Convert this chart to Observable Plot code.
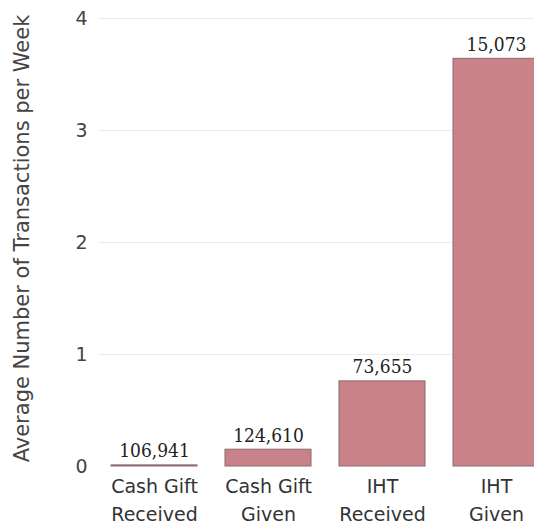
<!DOCTYPE html>
<html>
<head>
<meta charset="utf-8">
<script src="https://cdn.jsdelivr.net/npm/d3@7"></script>
<script src="https://cdn.jsdelivr.net/npm/@observablehq/plot@0.6"></script>
<style>
  html, body { margin: 0; padding: 0; background: #fff; overflow: hidden; }
  #chart svg { display: block; overflow: hidden; }
</style>
</head>
<body>
<div id="chart"></div>
<script>
const categories = ["Cash Gift\nReceived", "Cash Gift\nGiven", "IHT\nReceived", "IHT\nGiven"];
const values = [0.01, 0.15, 0.76, 3.64];
const countLabels = ["106,941", "124,610", "73,655", "15,073"];
const yTicks = [0, 1, 2, 3, 4];

const data = categories.map((c, i) => ({cat: c, value: values[i], label: countLabels[i]}));

const chart = Plot.plot({
  width: 534,
  height: 529,
  marginLeft: 99,
  marginRight: -16.5,
  marginTop: 18,
  marginBottom: 63,
  style: {fontFamily: "'DejaVu Sans', sans-serif", background: "#fff", color: "#333"},
  x: {domain: categories, paddingInner: 0.25, paddingOuter: 0.1, label: null},
  y: {domain: [0, 4], label: null},
  marks: [
    Plot.gridY(yTicks.filter(d => d > 0), {stroke: "#ebebeb", strokeOpacity: 1}),
    Plot.barY(data, {x: "cat", y: "value", fill: "#c9828a", stroke: "#8a6a6e", strokeWidth: 1}),
    Plot.text(data, {x: "cat", y: "value", text: "label", dy: -14, fontSize: 19, fill: "#222", fontFamily: "'DejaVu Serif Condensed', 'DejaVu Serif', serif"}),
    Plot.axisX({tickSize: 0, fontSize: 19, lineHeight: 1.47, tickPadding: 7, fill: "#333", label: null}),
    Plot.axisY({ticks: yTicks, tickFormat: "d", tickSize: 0, tickPadding: 13, fontSize: 19, fill: "#444", label: null, textAnchor: "middle", dx: -5}),
    Plot.text(["Average Number of Transactions per Week"], {
      frameAnchor: "left", dx: -77, dy: -4, rotate: -90, textAnchor: "middle", fontSize: 21, fill: "#444"
    })
  ]
});
document.getElementById("chart").appendChild(chart);
</script>
</body>
</html>
